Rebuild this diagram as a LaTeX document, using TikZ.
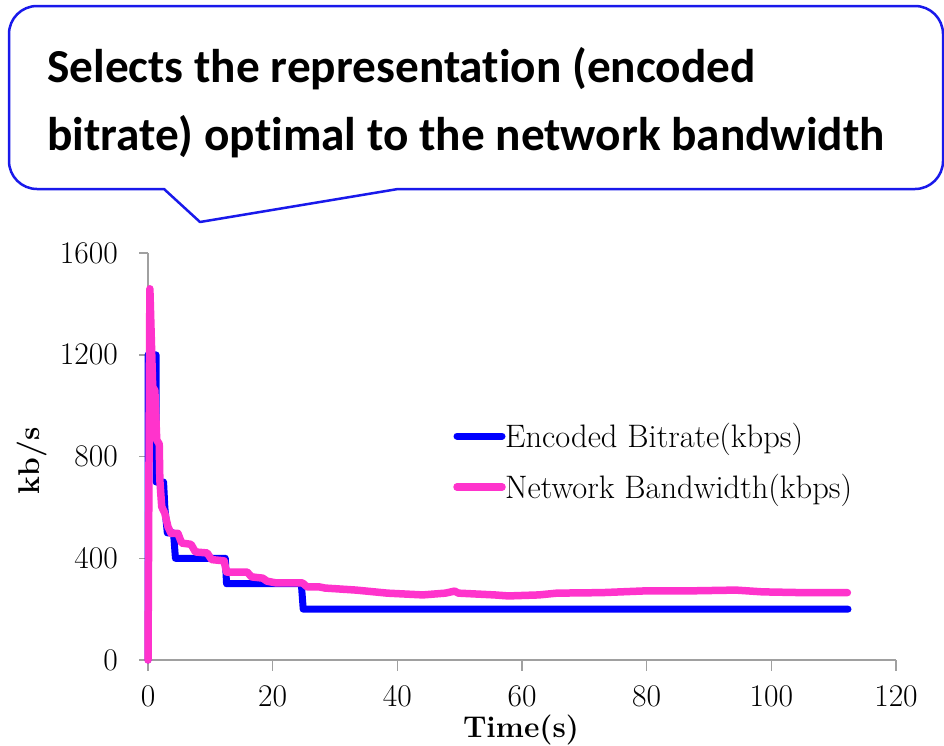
\documentclass[tikz,border=0pt]{standalone}
\usepackage{fontspec}
\newfontfamily\calloutfont{Carlito}[Ligatures=NoCommon]
\definecolor{calloutblue}{RGB}{25,25,235}
\definecolor{bitblue}{RGB}{0,0,255}
\definecolor{bwpink}{RGB}{255,51,204}
\definecolor{axisgray}{RGB}{160,160,160}
\tikzset{
  calloutline/.style={draw=calloutblue, line width=2.5pt, fill=white, line join=round},
  callouttext/.style={inner sep=0pt, font=\calloutfont\bfseries\fontsize{47.3}{57}\selectfont},
  axisline/.style={draw=axisgray, line width=1.6pt},
  ticklab/.style={inner sep=0pt, font=\fontsize{31.5}{38}\selectfont},
  axistitle/.style={inner sep=0pt, font=\bfseries\fontsize{30}{36}\selectfont},
  legendtext/.style={inner sep=0pt, font=\fontsize{32.5}{38}\selectfont},
  bitline/.style={draw=bitblue, line width=7pt, line cap=round, line join=round},
  bwline/.style={draw=bwpink, line width=7.5pt, line cap=round, line join=round}
}
\begin{document}
\begin{tikzpicture}[x=1pt,y=-1pt]
\useasboundingbox (0,0) rectangle (944,745);
\fill[white] (0,0) rectangle (944,745);

% callout
\draw[calloutline] (164,189) [rounded corners=28pt] -- (9,189) -- (9,6) -- (943,6) -- (943,189) [sharp corners] -- (398,189) -- (200,222) -- cycle;
\node[callouttext, anchor=base west] (line1) at (47,82) {Selects the representation (encoded};
\node[callouttext, anchor=base west] (line2) at (47,150) {bitrate) optimal to the network bandwidth};

% chart
\begin{scope}[shift={(148,660)}]
\begin{scope}[x=6.2333pt,y=0.25425pt]
  \draw[axisline] (0,1600) -- (0,0) -- (120,0);
  \foreach \v in {0,400,800,1200,1600} {
    \draw[axisline] (0,\v) -- ++(-9pt,0);
    \node[ticklab, anchor=base east] (ylab-\v) at ([xshift=-30pt,yshift=-10pt]0,\v) {\v};
  }
  \foreach \t in {0,20,40,60,80,100,120} {
    \draw[axisline] (\t,0) -- ++(0,-11pt);
    \node[ticklab, anchor=base] (xlab-\t) at ([yshift=-46pt]\t,0) {\t};
  }
  % encoded bitrate
  \draw[bitline] plot coordinates {(0,0) (0,1200) (1.3,1200) (1.3,700) (2.5,700) (2.7,600) (3.1,500) (4.1,500) (4.4,400) (12.4,400) (12.6,300) (24.6,300) (24.9,200) (112.3,200)};
  % network bandwidth
  \draw[bwline] plot coordinates {(0,0) (0.3,1460) (0.75,1074) (1.1,1060) (1.4,865) (1.8,850) (1.9,708) (2.2,603) (2.7,577) (3.2,524) (3.7,498) (4.8,498) (5.4,460) (6.9,455) (7.6,425) (9.5,421) (10.2,395) (12.2,390) (12.6,346) (15.9,346) (16.6,327) (18.4,322) (19.1,310) (20.6,303) (24.8,303) (25.5,288) (27.4,288) (28.4,283) (33.4,275) (38.4,263) (44.1,256) (47.7,263) (49.2,271) (49.8,263) (55.6,256) (57.8,252) (62.7,256) (65.6,263) (72.8,265) (79.9,272) (87.1,272) (94.3,275) (98.6,268) (105,265) (112.2,265)};
\end{scope}
\end{scope}

% axis titles
\node[axistitle, anchor=base] (xtitle) at (521,737) {Time(s)};
\node[axistitle, rotate=90] (ytitle) at (32,461) {kb/s};

% legend
\draw[bitline] (457,436) -- (502,436);
\node[legendtext, anchor=base west] (leg1) at (505,447) {Encoded Bitrate(kbps)};
\draw[bwline] (457,487) -- (502,487);
\node[legendtext, anchor=base west] (leg2) at (505,498) {Network Bandwidth(kbps)};
\end{tikzpicture}
\end{document}
